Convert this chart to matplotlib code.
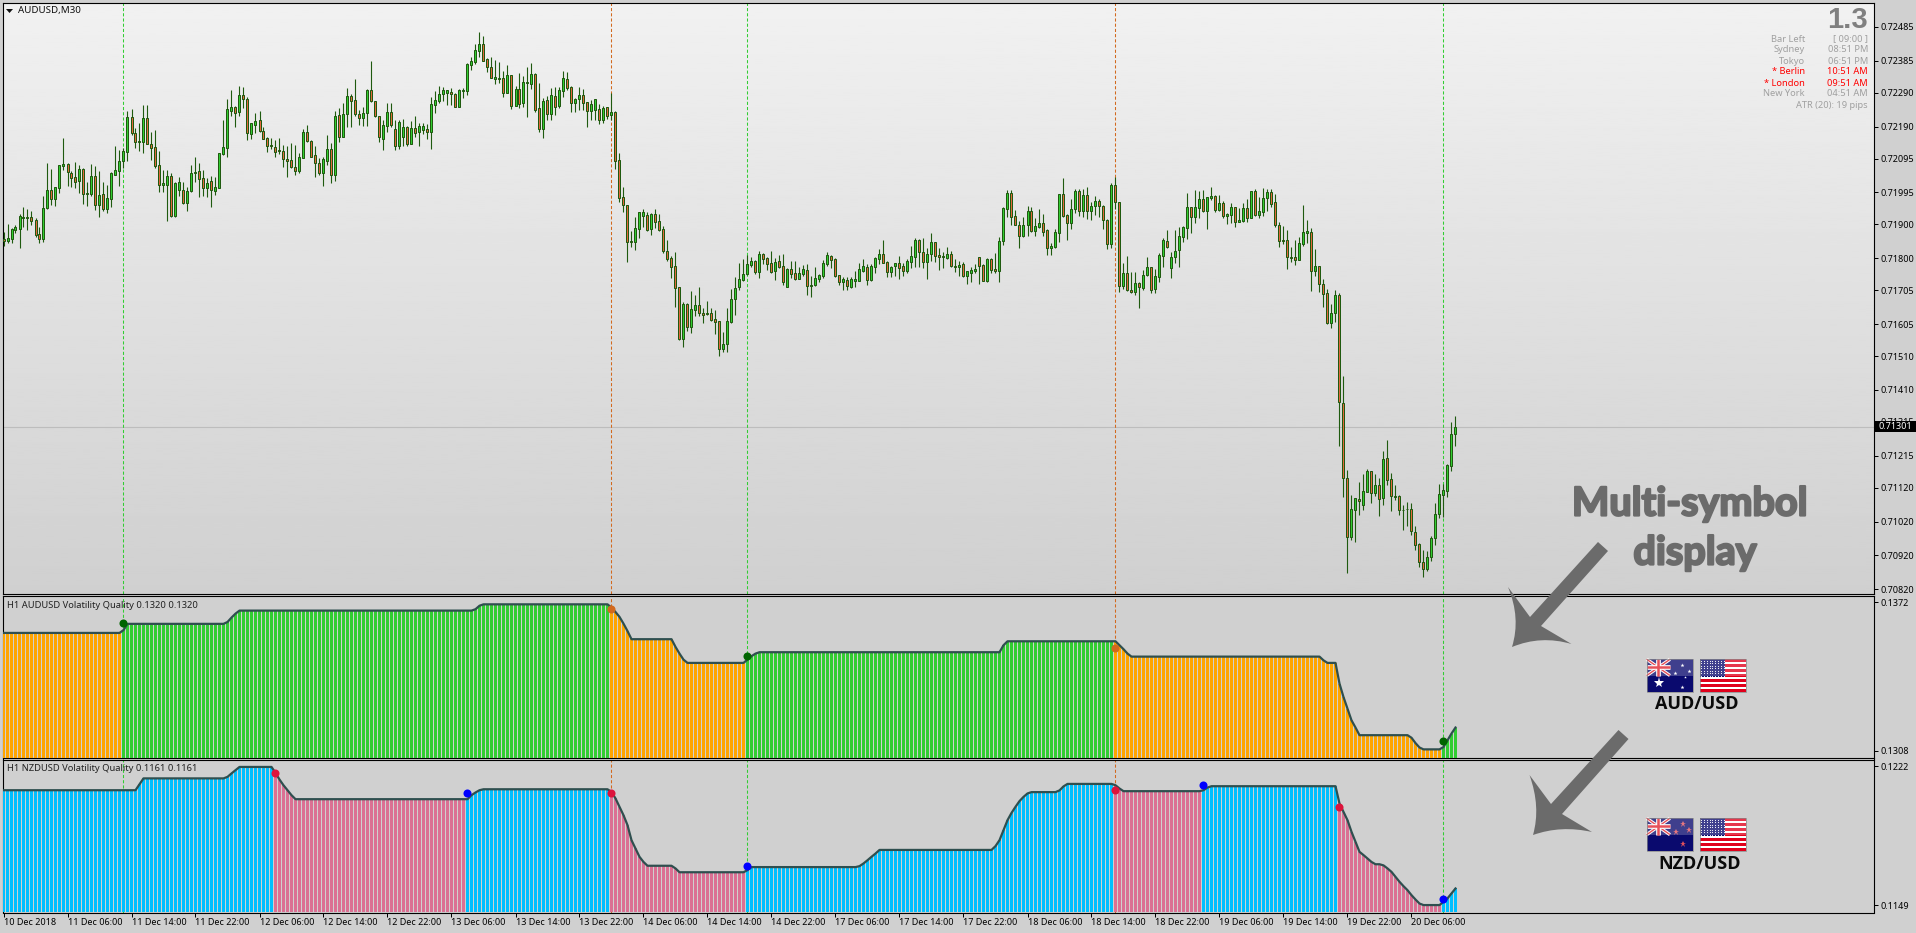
import matplotlib
matplotlib.use("Agg")
import matplotlib.pyplot as plt
import matplotlib.patheffects as pe
import numpy as np
from matplotlib.patches import Rectangle, Polygon, PathPatch
from matplotlib.path import Path

plt.rcParams['font.family'] = ['Noto Sans', 'DejaVu Sans']

# candles, price in 1/100000
opens = [71857,71852,71858,71884,71888,71918,71918,71921,71912,71871,
71858,71949,72001,71976,72009,72074,72079,72052,72040,72030,
72064,71989,71991,72043,71959,71990,71947,71976,72048,72058,
72089,72116,72218,72170,72143,72143,72215,72138,72129,72075,
72018,72018,72043,71925,72002,72001,71965,72000,72052,72058,
72037,72009,72030,72000,72009,72109,72128,72237,72247,72234,
72283,72272,72169,72196,72209,72176,72155,72134,72129,72121,
72119,72093,72090,72069,72059,72098,72173,72146,72105,72081,
72052,72089,72123,72048,72224,72160,72226,72280,72268,72226,
72214,72231,72298,72265,72221,72154,72193,72232,72182,72131,
72160,72188,72139,72185,72175,72180,72182,72175,72255,72266,
72285,72290,72291,72285,72249,72296,72296,72373,72382,72415,
72434,72389,72365,72332,72333,72333,72290,72342,72252,72300,
72261,72320,72317,72345,72244,72184,72268,72228,72280,72252,
72296,72330,72306,72261,72273,72283,72262,72237,72240,72241,
72210,72247,72225,72232,72090,71980,71957,71850,71849,71888,
71926,71927,71888,71930,71909,71886,71821,71800,71776,71714,
71562,71664,71597,71648,71661,71638,71637,71637,71619,71613,
71532,71547,71611,71680,71716,71736,71754,71781,71791,71760,
71812,71800,71785,71761,71791,71776,71716,71767,71755,71739,
71754,71764,71718,71721,71739,71748,71783,71807,71797,71749,
71731,71735,71716,71734,71734,71763,71773,71736,71775,71799,
71812,71788,71760,71776,71785,71776,71763,71790,71805,71853,
71818,71790,71814,71847,71809,71806,71802,71812,71776,71775,
71782,71746,71757,71763,71803,71780,71734,71798,71767,71763,
71852,71947,71992,71924,71898,71867,71897,71939,71882,71894,
71904,71883,71829,71834,71876,71989,71929,71903,71947,71998,
71939,71986,71939,71954,71969,71956,71912,71841,72016,71966,
71719,71755,71705,71701,71726,71713,71749,71773,71708,71745,
71808,71850,71772,71805,71823,71864,71891,71951,71923,71950,
71975,71941,71978,71984,71943,71963,71926,71929,71951,71908,
71910,71948,71920,71998,71929,71938,71977,71995,71966,71898,
71854,71853,71803,71803,71796,71843,71876,71877,71763,71776,
71725,71696,71609,71639,71691,71371,71149,70973,71054,71087,
71068,71109,71169,71106,71128,71089,71208,71146,71096,71096,
71055,71058,71057,70989,70953,70900,70881,70914,70971,71041,
71100,71112,71186,71278]
highs = [71879,71902,71890,71899,71931,71951,71945,71939,71918,71892,
71985,72081,72064,72012,72076,72155,72083,72057,72084,72077,
72067,72027,72079,72074,72057,72025,72017,72055,72131,72121,
72126,72237,72241,72185,72200,72254,72254,72175,72180,72118,
72062,72060,72052,72025,72042,72027,72012,72076,72101,72081,
72062,72037,72044,72042,72113,72210,72271,72298,72251,72310,
72306,72277,72202,72229,72237,72188,72160,72155,72150,72155,
72135,72132,72140,72135,72111,72183,72194,72150,72131,72096,
72101,72165,72141,72237,72244,72259,72303,72286,72331,72239,
72247,72301,72384,72266,72222,72208,72259,72261,72208,72210,
72211,72192,72207,72221,72200,72200,72197,72277,72295,72310,
72306,72298,72303,72288,72300,72304,72378,72395,72435,72470,
72458,72392,72395,72387,72381,72355,72372,72343,72310,72350,
72340,72367,72378,72350,72319,72274,72282,72304,72307,72308,
72355,72352,72310,72275,72307,72301,72262,72269,72272,72257,
72251,72248,72288,72236,72111,72011,71958,71880,71921,71937,
71945,71936,71935,71946,71931,71895,71854,71808,71819,71715,
71669,71666,71703,71690,71714,71653,71672,71653,71646,71614,
71581,71653,71709,71744,71785,71797,71809,71805,71795,71820,
71817,71805,71820,71800,71809,71813,71770,71792,71792,71775,
71780,71782,71747,71774,71753,71795,71819,71810,71800,71750,
71743,71743,71745,71762,71786,71798,71783,71783,71805,71828,
71854,71791,71777,71787,71806,71785,71799,71836,71859,71856,
71859,71830,71875,71849,71830,71819,71833,71822,71799,71793,
71789,71762,71773,71783,71805,71784,71801,71800,71816,71863,
71952,72002,72002,71943,71911,71922,71955,71953,71919,71945,
71930,71886,71844,71886,71991,72038,71930,71975,72005,72005,
72004,72010,71967,71983,71976,71958,71915,72022,72040,71967,
71786,71807,71759,71759,71731,71765,71804,71775,71768,71815,
71859,71884,71818,71884,71893,71896,71993,71952,72002,71998,
72002,71981,72010,71987,71987,71969,71935,71964,71952,71949,
71964,71976,71999,72005,71981,72008,72005,72005,71990,71908,
71896,71884,71833,71854,71863,71958,71913,71889,71827,71777,
71739,71708,71665,71705,71696,71451,71172,71099,71090,71138,
71161,71176,71170,71161,71150,71229,71262,71165,71129,71098,
71070,71078,71076,71008,70956,70936,70933,70978,71076,71131,
71131,71191,71315,71333]
lows = [71837,71846,71846,71874,71829,71894,71884,71899,71862,71846,
71849,71947,71958,71955,71994,72060,72014,72012,72007,71993,
71961,71955,71983,71943,71923,71940,71933,71953,72047,72014,
72066,72089,72165,72126,72119,72113,72137,72091,72067,71997,
71997,71909,71921,71921,71983,71961,71941,71997,72027,71981,
71983,71981,71951,71987,72009,72105,72099,72220,72190,72220,
72244,72150,72152,72170,72175,72152,72116,72123,72099,72109,
72071,72040,72067,72047,72052,72096,72145,72099,72042,72047,
72015,72076,72024,72030,72143,72158,72190,72190,72222,72195,
72192,72192,72263,72218,72143,72121,72174,72190,72121,72125,
72133,72131,72138,72160,72133,72168,72153,72124,72230,72260,
72267,72254,72254,72247,72247,72274,72284,72358,72375,72396,
72384,72351,72334,72316,72318,72277,72288,72242,72251,72245,
72247,72217,72300,72233,72174,72156,72210,72210,72224,72245,
72278,72298,72233,72233,72239,72239,72189,72210,72210,72198,
72201,72212,72209,72064,71968,71937,71789,71834,71824,71860,
71893,71881,71869,71891,71881,71816,71793,71741,71657,71559,
71537,71585,71579,71629,71630,71608,71632,71614,71576,71511,
71522,71522,71607,71632,71706,71734,71750,71775,71753,71741,
71783,71765,71757,71736,71771,71722,71715,71742,71735,71738,
71747,71691,71685,71719,71731,71742,71777,71771,71743,71721,
71706,71706,71713,71715,71732,71760,71721,71734,71756,71783,
71785,71744,71744,71747,71739,71747,71756,71771,71775,71774,
71772,71739,71792,71789,71765,71771,71798,71775,71759,71747,
71745,71724,71730,71755,71724,71733,71731,71755,71755,71730,
71839,71923,71899,71897,71830,71864,71866,71878,71866,71891,
71866,71810,71810,71830,71848,71923,71854,71887,71935,71924,
71923,71916,71913,71928,71923,71888,71828,71830,71945,71700,
71708,71703,71697,71692,71653,71705,71747,71698,71698,71730,
71775,71831,71741,71786,71775,71848,71857,71875,71904,71919,
71937,71887,71973,71937,71940,71919,71901,71904,71893,71908,
71907,71906,71919,71925,71918,71925,71940,71952,71893,71833,
71842,71768,71789,71780,71795,71836,71845,71703,71747,71700,
71656,71605,71594,71611,71243,71094,70869,70964,70961,71040,
71053,71108,71074,71097,71038,71070,71129,71050,71085,71040,
70994,71008,70981,70936,70886,70857,70874,70904,70951,71031,
71034,71093,71170,71244]
closes = [71852,71860,71886,71892,71924,71921,71922,71911,71869,71858,
71948,72001,71976,72010,72075,72079,72054,72039,72027,72064,
71989,71993,72043,71959,71987,71946,71978,72052,72061,72087,
72117,72218,72170,72145,72148,72215,72138,72128,72074,72018,
72022,72043,71925,72022,72025,71965,71998,72052,72055,72036,
72009,72022,72001,72010,72111,72129,72241,72249,72231,72283,
72273,72172,72200,72206,72176,72154,72131,72131,72116,72119,
72093,72089,72069,72059,72099,72173,72147,72101,72081,72051,
72093,72123,72048,72221,72160,72226,72280,72267,72226,72214,
72231,72298,72265,72221,72158,72194,72232,72194,72131,72203,
72188,72139,72185,72172,72191,72191,72175,72256,72268,72286,
72297,72297,72285,72249,72297,72297,72375,72383,72416,72434,
72385,72365,72335,72336,72332,72290,72342,72251,72300,72258,
72321,72321,72345,72240,72184,72265,72228,72283,72249,72297,
72333,72305,72261,72271,72283,72261,72237,72256,72271,72208,
72244,72222,72232,72089,71979,71959,71849,71849,71889,71936,
71936,71884,71930,71907,71884,71820,71798,71775,71713,71562,
71664,71597,71649,71661,71639,71633,71635,71617,71612,71532,
71545,71613,71678,71711,71738,71752,71782,71791,71759,71812,
71799,71784,71760,71788,71775,71731,71769,71753,71739,71755,
71767,71719,71722,71740,71750,71785,71809,71796,71747,71731,
71738,71719,71738,71738,71767,71776,71737,71776,71800,71812,
71787,71760,71775,71785,71772,71761,71791,71806,71853,71818,
71790,71812,71847,71808,71805,71803,71812,71776,71775,71779,
71746,71761,71764,71767,71778,71734,71798,71766,71763,71850,
71948,71992,71923,71897,71867,71898,71939,71882,71895,71904,
71879,71829,71835,71877,71989,71924,71903,71947,71998,71939,
71986,71939,71954,71969,71954,71912,71841,72016,71966,71719,
71755,71705,71700,71726,71714,71749,71773,71707,71746,71809,
71853,71833,71803,71821,71865,71892,71951,71923,71951,71975,
71941,71980,71983,71944,71963,71926,71930,71951,71908,71912,
71948,71920,71998,71928,71939,71978,71995,71962,71897,71852,
71852,71805,71801,71796,71844,71877,71880,71763,71776,71723,
71695,71609,71639,71690,71373,71148,70973,71057,71089,71080,
71110,71169,71106,71128,71087,71205,71142,71095,71094,71053,
71053,71056,70991,70952,70899,70881,70915,70971,71042,71101,
71113,71187,71279,71301]

# volatility quality indicator, one value per candle
aud_vq = ([0.13588]*30 + [0.13600] + [0.13627]*25 + [0.13635,0.13654,0.13671] + [0.13684]*59
    + [0.13690,0.13705] + [0.13711]*32 + [0.13697,0.13678,0.13657,0.13628,0.13596] + [0.13561]*11
    + [0.13528,0.13499,0.13473] + [0.13459]*15 + [0.13473,0.13488,0.13499] + [0.13505]*61
    + [0.13535] + [0.13552]*28 + [0.13535,0.13518,0.13499] + [0.13486]*48 + [0.13470] + [0.13459]*3
    + [0.13370,0.13312,0.13262,0.13212,0.13181] + [0.13148]*13 + [0.13137,0.13114,0.13095]
    + [0.13087]*5 + [0.13097,0.13126,0.13155,0.13181])
nzd_vq = ([0.12094]*34 + [0.12125] + [0.12156]*21 + [0.12164,0.12182,0.12199] + [0.12216]*9
    + [0.12185,0.12150,0.12120,0.12094,0.12068] + [0.12047]*44 + [0.12068,0.12082,0.12094]
    + [0.12099]*32 + [0.12085,0.12051,0.12007,0.11963,0.11911,0.11832,0.11789,0.11745,0.11718]
    + [0.11698]*7 + [0.11684] + [0.11664]*17 + [0.11675] + [0.11691]*27
    + [0.11696,0.11710,0.11727,0.11745,0.11762] + [0.11781]*29
    + [0.11801,0.11832,0.11885,0.11937,0.11975,0.12007,0.12037,0.12059,0.12077] + [0.12084]*7
    + [0.12093,0.12114] + [0.12127]*12 + [0.12120,0.12103] + [0.12089]*20 + [0.12094,0.12108]
    + [0.12115]*32
    + [0.12024,0.11981,0.11937,0.11876,0.11823,0.11771,0.11754,0.11736,0.11718,0.11706,0.11706,
       0.11700,0.11684,0.11666,0.11640,0.11614,0.11591,0.11570,0.11544,0.11521,0.11500]
    + [0.11492]*5 + [0.11509,0.11527,0.11553,0.11579])

# colour changes: (first candle, trend)
aud_trend = [(0, "down"), (30, "up"), (152, "down"), (186, "up"), (278, "down"), (360, "up")]
nzd_trend = [(0, "up"), (68, "down"), (116, "up"), (152, "down"), (186, "up"), (278, "down"), (300, "up"), (334, "down"), (360, "up")]

# signal dots
aud_sig_x = [30, 152, 186, 278, 360]
aud_sig_y = [0.13630, 0.13690, 0.13489, 0.13523, 0.13122]
aud_sig_c = ["#006400", "#d2691e", "#006400", "#d2691e", "#006400"]
nzd_sig_x = [68, 116, 152, 186, 278, 300, 334, 360]
nzd_sig_y = [0.12185, 0.12078, 0.12080, 0.11696, 0.12094, 0.12120, 0.12005, 0.11523]
nzd_sig_c = ["#dc143c", "#0000ff", "#dc143c", "#0000ff", "#dc143c", "#0000ff", "#dc143c", "#0000ff"]

# vertical signal lines (candle, colour)
vlines_x = [30, 152, 186, 278, 360]
vlines_c = ["#32cd32", "#d2691e", "#32cd32", "#d2691e", "#32cd32"]

price_ticks = [0.72485, 0.72385, 0.72290, 0.72190, 0.72095, 0.71995, 0.71900, 0.71800, 0.71705,
               0.71605, 0.71510, 0.71410, 0.71315, 0.71215, 0.71120, 0.71020, 0.70920, 0.70820]
last_price = 0.71301

date_labels = ["10 Dec 2018", "11 Dec 06:00", "11 Dec 14:00", "11 Dec 22:00", "12 Dec 06:00", "12 Dec 14:00",
               "12 Dec 22:00", "13 Dec 06:00", "13 Dec 14:00", "13 Dec 22:00", "14 Dec 06:00", "14 Dec 14:00",
               "14 Dec 22:00", "17 Dec 06:00", "17 Dec 14:00", "17 Dec 22:00", "18 Dec 06:00", "18 Dec 14:00",
               "18 Dec 22:00", "19 Dec 06:00", "19 Dec 14:00", "19 Dec 22:00", "20 Dec 06:00"]

info_names = ["Bar Left", "Sydney", "Tokyo", "* Berlin", "* London", "New York"]
info_values = ["[ 09:00 ]", "08:51 PM", "06:51 PM", "10:51 AM", "09:51 AM", "04:51 AM"]
info_colors = ["#a0a0a0", "#a0a0a0", "#a0a0a0", "#ff0000", "#ff0000", "#a0a0a0"]

W, H = 1916, 933
GREY = "#d0d0d0"
DARK = "#1f5a0f"
TREND_AUD = {"up": "#32cd32", "down": "#ffa500"}
TREND_NZD = {"up": "#00bfff", "down": "#db7093"}

fig = plt.figure(figsize=(W / 100, H / 100), dpi=100, facecolor=GREY)


def panel(top, bottom):
    ax = fig.add_axes([3 / W, 1 - bottom / H, 1871 / W, (bottom - top) / H])
    ax.set_facecolor(GREY)
    for s in ax.spines.values():
        s.set_linewidth(0.8)
    ax.set_xlim(-0.125, 467.625)
    ax.yaxis.tick_right()
    ax.tick_params(axis='y', length=2.8, width=0.72, labelsize=6.5, pad=2, colors="#000000")
    ax.set_xticks([])
    return ax


ax = panel(3, 593.5)
ax1 = panel(595.5, 757.5)
ax2 = panel(759.5, 912.5)

x = np.arange(len(closes))

# main chart
o = np.array(opens) / 100000
h = np.array(highs) / 100000
l = np.array(lows) / 100000
c = np.array(closes) / 100000
ymin, ymax = 0.70807, 0.72556
grad = np.linspace(0.945, 0.815, 256).reshape(-1, 1)
ax.imshow(grad, cmap="gray", vmin=0, vmax=1, aspect="auto", extent=(-0.125, 467.625, ymin, ymax), zorder=0)
ax.set_xlim(-0.125, 467.625)
ax.set_ylim(ymin, ymax)
ax.axhline(last_price, color="#bdbdbd", lw=0.8, zorder=1)
ax.vlines(x, l, h, color=DARK, lw=0.8, zorder=3)
body_colors = ["#32cd32" if b >= a else "#e2683c" for a, b in zip(o, c)]
ax.bar(x, np.abs(c - o), bottom=np.minimum(o, c), width=0.5, color=body_colors, edgecolor=DARK, linewidth=0.72, zorder=4)
ax.set_yticks(price_ticks)
ax.set_yticklabels(["%.5f" % p for p in price_ticks])


# indicator panels
def draw_vq(a, vals, trend, names, sig_x, sig_y, sig_c, low, high, ticks):
    vals = np.array(vals)
    cols = []
    for k, (start, t) in enumerate(trend):
        end = trend[k + 1][0] if k + 1 < len(trend) else len(vals)
        cols += [names[t]] * (end - start)
    a.bar(x, vals - low, bottom=low, width=0.75, color=cols, linewidth=0, antialiased=False, zorder=3)
    a.plot(x, vals, color="#2f4f4f", lw=1.6, zorder=4, solid_joinstyle="round")
    for sx, sy, sc in zip(sig_x, sig_y, sig_c):
        a.plot([sx], [sy], "o", color=sc, ms=5.8, mew=0, zorder=5)
    a.set_ylim(low, high)
    a.set_yticks(ticks)
    a.set_yticklabels(["%.4f" % t for t in ticks])


draw_vq(ax1, aud_vq, aud_trend, TREND_AUD, aud_sig_x, aud_sig_y, aud_sig_c, 0.13052, 0.13749, [0.1372, 0.1308])
draw_vq(ax2, nzd_vq, nzd_trend, TREND_NZD, nzd_sig_x, nzd_sig_y, nzd_sig_c, 0.11453, 0.12255, [0.1222, 0.1149])

for a in (ax, ax1, ax2):
    for vx, vc in zip(vlines_x, vlines_c):
        a.axvline(vx, color=vc, lw=0.75, linestyle=(0, (3, 2)), zorder=2)

ax2.set_xticks(np.arange(len(date_labels)) * 16)
ax2.set_xticklabels(date_labels, ha="left")
ax2.tick_params(axis='x', length=2.8, width=0.72, labelsize=6.5, pad=1.5, colors="#000000")

# overlay in pixels for the texts and the drawn annotations
ov = fig.add_axes([0, 0, 1, 1], zorder=10)
ov.set_xlim(0, W)
ov.set_ylim(H, 0)
ov.axis("off")

ov.add_patch(Polygon([(6, 9), (13, 9), (9.5, 13)], color="#111111", lw=0))
ov.text(18, 10.5, "AUDUSD,M30", fontsize=7, va="center", color="#111111")
ov.text(7, 605, "H1 AUDUSD Volatility Quality 0.1320 0.1320", fontsize=6.75, va="center", color="#222222")
ov.text(7, 768.5, "H1 NZDUSD Volatility Quality 0.1161 0.1161", fontsize=6.75, va="center", color="#222222")

ov.text(1868, 20, "1.3", fontsize=21, fontweight="bold", color="#808080", ha="right", va="center", family="Liberation Sans")
for k in range(len(info_names)):
    yy = 39 + 11 * k
    ov.text(1805, yy, info_names[k], fontsize=6.7, color=info_colors[k], ha="right", va="center")
    ov.text(1868, yy, info_values[k], fontsize=6.7, color=info_colors[k], ha="right", va="center")
ov.text(1868, 105, "ATR (20): 19 pips", fontsize=6.7, color="#a0a0a0", ha="right", va="center")

# black tag with the last price
ov.add_patch(Rectangle((1875, 421), 41, 11, color="#000000", lw=0, zorder=5))
ov.text(1879, 426.5, "%.5f" % last_price, fontsize=6.5, color="#ffffff", va="center", zorder=6)

# big note
ARROW = "#6b6b6b"
round_edge = [pe.withStroke(linewidth=1.6, foreground=ARROW)]
ov.text(1690, 504, "Multi-symbol", fontsize=28.5, fontweight="bold", color=ARROW, ha="center", va="center", family="Lato", path_effects=round_edge)
ov.text(1695, 553, "display", fontsize=28.5, fontweight="bold", color=ARROW, ha="center", va="center", family="Lato", path_effects=round_edge)


def arrow(end1, end2, barb1, join1, ctrl1, tip, ctrl2, barb2, join2):
    verts = [end1, end2, join2, barb2, ctrl2, tip, ctrl1, barb1, join1, end1]
    codes = [Path.MOVETO, Path.LINETO, Path.LINETO, Path.LINETO, Path.CURVE3, Path.CURVE3,
             Path.CURVE3, Path.CURVE3, Path.LINETO, Path.CLOSEPOLY]
    ov.add_patch(PathPatch(Path(verts, codes), facecolor=ARROW, edgecolor="none"))


arrow((1598, 542), (1608, 551), (1508, 587), (1530, 617), (1521, 618), (1512, 647), (1541, 635), (1571.5, 644), (1541, 626))
arrow((1618.5, 730), (1628.5, 739), (1529.5, 775), (1551, 804), (1541, 807), (1533, 835), (1561, 825), (1592, 832), (1562, 814))


# flags
def gloss(fx, fy, fw, fh):
    ov.add_patch(Rectangle((fx, fy), fw, fh * 0.5, color="#ffffff", alpha=0.22, lw=0, zorder=4))
    ov.add_patch(Rectangle((fx, fy), fw, fh, fill=False, edgecolor="#888888", lw=0.5, zorder=4))


def jack_flag(fx, fy, fw, fh, stars, star_color):
    ov.add_patch(Rectangle((fx, fy), fw, fh, color="#0a0a6e", lw=0))
    jw, jh = fw * 0.5, fh * 0.5
    for dy in [(fy, fy + jh), (fy + jh, fy)]:
        ov.plot([fx, fx + jw], dy, color="#ffffff", lw=2.4, solid_capstyle="butt")
        ov.plot([fx, fx + jw], dy, color="#e0202c", lw=1.0, solid_capstyle="butt")
    ov.plot([fx + jw / 2, fx + jw / 2], [fy, fy + jh], color="#ffffff", lw=3.4, solid_capstyle="butt")
    ov.plot([fx, fx + jw], [fy + jh / 2, fy + jh / 2], color="#ffffff", lw=3.4, solid_capstyle="butt")
    ov.plot([fx + jw / 2, fx + jw / 2], [fy, fy + jh], color="#e0202c", lw=1.8, solid_capstyle="butt")
    ov.plot([fx, fx + jw], [fy + jh / 2, fy + jh / 2], color="#e0202c", lw=1.8, solid_capstyle="butt")
    for sx, sy, sz in stars:
        ov.plot([fx + sx * fw], [fy + sy * fh], marker="*", color=star_color, ms=sz, mew=0, ls="none", zorder=3)
    gloss(fx, fy, fw, fh)


def us_flag(fx, fy, fw, fh):
    for k in range(13):
        col = "#e0001b" if k % 2 == 0 else "#ffffff"
        ov.add_patch(Rectangle((fx, fy + k * fh / 13), fw, fh / 13 + 0.2, color=col, lw=0))
    cw, ch = fw * 0.54, fh * 0.55
    ov.add_patch(Rectangle((fx, fy), cw, ch, color="#0a0a6e", lw=0, zorder=2))
    for row in range(7):
        for col in range(9):
            ov.plot([fx + (col + 0.5) * cw / 9], [fy + (row + 0.5) * ch / 7], ".", color="#ffffff", ms=1.6, mew=0, zorder=3)
    gloss(fx, fy, fw, fh)


jack_flag(1646.7, 659.3, 46.5, 32.4, [(.26, .72, 8), (.76, .18, 3), (.92, .36, 3), (.61, .41, 3), (.76, .85, 3), (.82, .54, 2)], "#ffffff")
us_flag(1699.7, 659.3, 46.8, 32.4)
jack_flag(1646.7, 818.3, 46.5, 32.7, [(.77, .17, 4.5), (.90, .35, 4.5), (.62, .41, 4.5), (.77, .78, 4.5)], "#e0505c")
us_flag(1699.7, 818.3, 46.8, 32.7)

ov.text(1697, 704, "AUD/USD", fontsize=13, fontweight="bold", color="#0a0a0a", ha="center", va="center", family="Open Sans")
ov.text(1699.7, 864, "NZD/USD", fontsize=13, fontweight="bold", color="#0a0a0a", ha="center", va="center", family="Open Sans")

fig.savefig("out.png", dpi=100, facecolor=GREY)
